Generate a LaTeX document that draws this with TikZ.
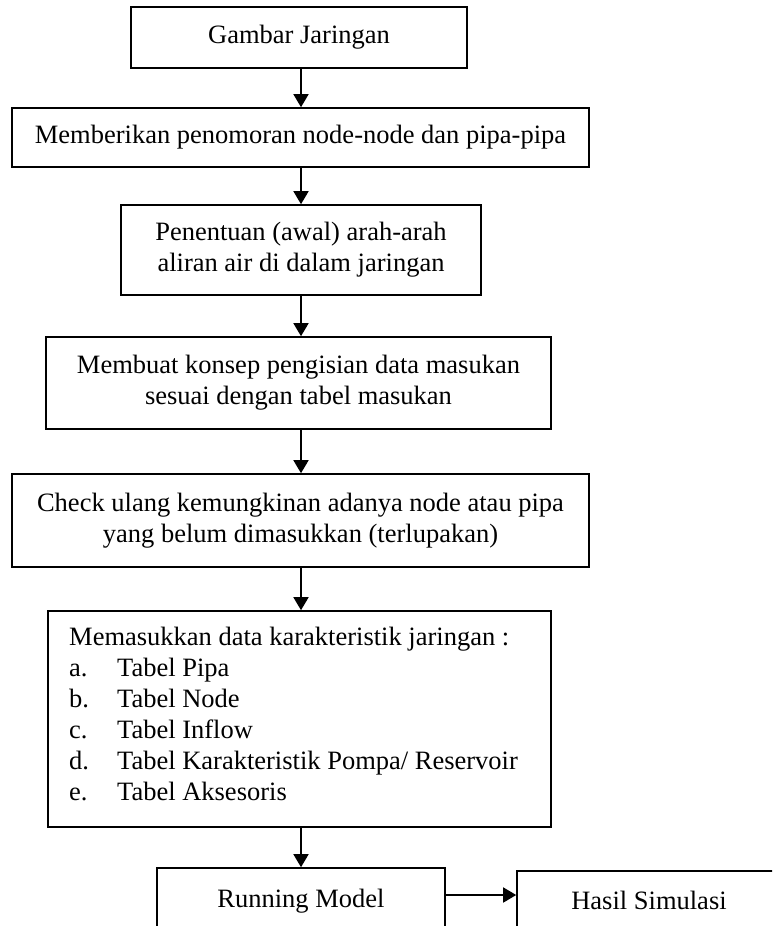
\documentclass[tikz,border=0pt]{standalone}
\usepackage{fontspec}
\setmainfont{Liberation Serif}
\usetikzlibrary{arrows.meta}
\begin{document}
\begin{tikzpicture}[x=1pt,y=-1pt,
  txt/.style={font=\fontsize{26.5}{31}\selectfont},
  box/.style={draw, line width=1.6pt, inner sep=0pt, align=center, txt},
  arr/.style={line width=1.6pt, -{Triangle[length=13pt,width=15pt]}}]
\useasboundingbox (0,0) rectangle (772,926);
\clip (0,0) rectangle (772,926);
\coordinate (ax) at (301,0);
\node[box, minimum width=336, minimum height=61] (b1) at (299,37.5) {Gambar Jaringan};
\node[box, minimum width=577, minimum height=59] (b2) at (300.5,137.5) {Memberikan penomoran node-node dan pipa-pipa};
\node[box, minimum width=360, minimum height=90] (b3) at (301,250) {Penentuan (awal) arah-arah\\aliran air di dalam jaringan};
\node[box, minimum width=505, minimum height=92] (b4) at (298.5,383) {Membuat konsep pengisian data masukan\\sesuai dengan tabel masukan};
\node[box, minimum width=577, minimum height=93] (b5) at (300.5,520.5) {Check ulang kemungkinan adanya node atau pipa\\yang belum dimasukkan (terlupakan)};
\node[box, minimum width=503, minimum height=216] (b6) at (299.5,719) {};
\node[txt, anchor=north west, inner sep=0pt, align=left] (b6t) at (69,626.5)
  {Memasukkan data karakteristik jaringan :\\
   \makebox[48pt][l]{a.}Tabel Pipa\\
   \makebox[48pt][l]{b.}Tabel Node\\
   \makebox[48pt][l]{c.}Tabel Inflow\\
   \makebox[48pt][l]{d.}Tabel Karakteristik Pompa/ Reservoir\\
   \makebox[48pt][l]{e.}Tabel Aksesoris};
\node[box, minimum width=288, minimum height=66] (run) at (301,901) {\raisebox{6pt}{Running Model}};
\node[box, minimum width=264, minimum height=64] (hasil) at (649,903) {\raisebox{6pt}{Hasil Simulasi}};
\draw[arr] (b1.south -| ax) -- (b2.north -| ax);
\draw[arr] (b2.south -| ax) -- (b3.north -| ax);
\draw[arr] (b3.south -| ax) -- (b4.north -| ax);
\draw[arr] (b4.south -| ax) -- (b5.north -| ax);
\draw[arr] (b5.south -| ax) -- (b6.north -| ax);
\draw[arr] (b6.south -| ax) -- (run.north -| ax);
\draw[arr] ([yshift=6pt]run.east) -- ([yshift=6pt]run.east -| hasil.west);
\end{tikzpicture}
\end{document}
